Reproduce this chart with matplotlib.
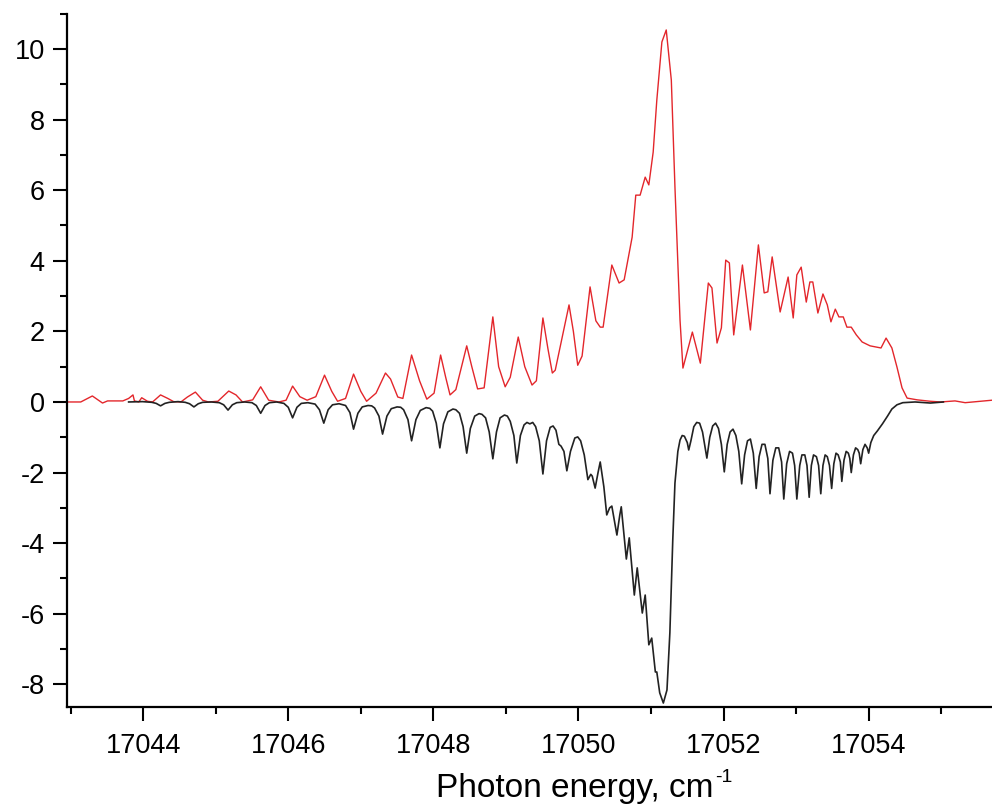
import matplotlib
matplotlib.use('Agg')
import matplotlib.pyplot as plt
from matplotlib.ticker import MultipleLocator

plt.rcParams['font.family'] = ['Liberation Sans', 'DejaVu Sans']
plt.rcParams['axes.unicode_minus'] = False

# red trace (upper)
red_x = [17042.93, 17043.14, 17043.30, 17043.44, 17043.51, 17043.72, 17043.80, 17043.86,
         17043.88, 17043.94, 17043.98, 17044.06, 17044.13, 17044.24, 17044.34, 17044.42,
         17044.52, 17044.61, 17044.72, 17044.82, 17044.90, 17045.03, 17045.18, 17045.28,
         17045.37, 17045.51, 17045.62, 17045.73, 17045.87, 17045.97, 17046.06, 17046.16,
         17046.26, 17046.38, 17046.50, 17046.60, 17046.68, 17046.79, 17046.90, 17047.00,
         17047.08, 17047.21, 17047.34, 17047.41, 17047.51, 17047.58, 17047.70, 17047.81,
         17047.91, 17048.01, 17048.10, 17048.17, 17048.23, 17048.31, 17048.46, 17048.53,
         17048.61, 17048.70, 17048.82, 17048.90, 17048.99, 17049.06, 17049.17, 17049.26,
         17049.36, 17049.42, 17049.51, 17049.58, 17049.64, 17049.68, 17049.87, 17049.93,
         17049.99, 17050.05, 17050.16, 17050.24, 17050.30, 17050.34, 17050.46, 17050.56,
         17050.63, 17050.74, 17050.79, 17050.85, 17050.92, 17050.97, 17051.03, 17051.08,
         17051.15, 17051.21, 17051.28, 17051.33, 17051.40, 17051.44, 17051.57, 17051.68,
         17051.79, 17051.84, 17051.91, 17051.97, 17052.03, 17052.08, 17052.14, 17052.26,
         17052.37, 17052.48, 17052.56, 17052.61, 17052.67, 17052.78, 17052.89, 17052.96,
         17053.01, 17053.07, 17053.14, 17053.19, 17053.23, 17053.30, 17053.37, 17053.43,
         17053.48, 17053.54, 17053.59, 17053.65, 17053.70, 17053.76, 17053.83, 17053.91,
         17054.02, 17054.17, 17054.24, 17054.32, 17054.39, 17054.46, 17054.53, 17054.67,
         17054.85, 17054.99, 17055.19, 17055.33, 17055.54, 17055.70]
red_y = [0.0, 0.0, 0.17, -0.03, 0.03, 0.03, 0.10, 0.20,
         0.03, 0.0, 0.12, 0.02, 0.0, 0.20, 0.10, 0.01,
         0.0, 0.14, 0.28, 0.05, 0.0, 0.02, 0.31, 0.20,
         0.0, 0.06, 0.43, 0.05, 0.0, 0.05, 0.45, 0.15,
         0.05, 0.15, 0.76, 0.30, 0.02, 0.10, 0.79, 0.30,
         0.02, 0.25, 0.82, 0.65, 0.14, 0.10, 1.33, 0.60,
         0.08, 0.25, 1.33, 0.70, 0.20, 0.35, 1.59, 1.00,
         0.37, 0.40, 2.41, 1.00, 0.43, 0.70, 1.84, 1.00,
         0.48, 0.60, 2.38, 1.50, 0.82, 0.90, 2.75, 2.00,
         1.04, 1.30, 3.26, 2.30, 2.12, 2.12, 3.88, 3.37,
         3.46, 4.67, 5.86, 5.86, 6.37, 6.15, 7.08, 8.55,
         10.2, 10.54, 9.12, 6.09, 2.32, 0.96, 1.98, 1.10,
         3.37, 3.23, 1.67, 2.10, 4.02, 3.94, 1.90, 3.88,
         2.04, 4.45, 3.09, 3.12, 4.11, 2.55, 3.54, 2.38,
         3.60, 3.82, 2.83, 3.40, 3.40, 2.52, 3.06, 2.75,
         2.27, 2.63, 2.41, 2.41, 2.12, 2.12, 1.90, 1.70,
         1.59, 1.53, 1.81, 1.53, 0.99, 0.40, 0.11, 0.06,
         0.02, 0.0, 0.03, -0.02, 0.02, 0.05]

# black trace (lower)
black_x = [17043.80, 17043.99, 17044.12, 17044.18, 17044.24, 17044.30, 17044.36, 17044.48,
           17044.58, 17044.64, 17044.70, 17044.76, 17044.82, 17044.94, 17045.05, 17045.11,
           17045.17, 17045.23, 17045.29, 17045.40, 17045.50, 17045.56, 17045.62, 17045.68,
           17045.74, 17045.84, 17045.94, 17046.00, 17046.06, 17046.12, 17046.18, 17046.27,
           17046.37, 17046.43, 17046.49, 17046.55, 17046.61, 17046.70, 17046.79, 17046.85,
           17046.90, 17046.96, 17047.02, 17047.10, 17047.15, 17047.19, 17047.25, 17047.30,
           17047.36, 17047.42, 17047.50, 17047.55, 17047.59, 17047.65, 17047.70, 17047.76,
           17047.82, 17047.90, 17047.95, 17047.99, 17048.04, 17048.09, 17048.14, 17048.20,
           17048.27, 17048.31, 17048.36, 17048.41, 17048.46, 17048.51, 17048.57, 17048.63,
           17048.67, 17048.72, 17048.77, 17048.82, 17048.87, 17048.92, 17048.98, 17049.02,
           17049.06, 17049.11, 17049.15, 17049.20, 17049.25, 17049.29, 17049.33, 17049.37,
           17049.41, 17049.46, 17049.51, 17049.56, 17049.61, 17049.65, 17049.69, 17049.73,
           17049.76, 17049.80, 17049.84, 17049.89, 17049.95, 17049.99, 17050.03, 17050.08,
           17050.13, 17050.17, 17050.19, 17050.23, 17050.27, 17050.30, 17050.35, 17050.39,
           17050.43, 17050.46, 17050.53, 17050.57, 17050.59, 17050.66, 17050.70, 17050.77,
           17050.81, 17050.88, 17050.92, 17050.97, 17051.01, 17051.06, 17051.08, 17051.12,
           17051.17, 17051.22, 17051.26, 17051.30, 17051.33, 17051.37, 17051.40, 17051.43,
           17051.46, 17051.50, 17051.52, 17051.55, 17051.59, 17051.63, 17051.67, 17051.71,
           17051.77, 17051.81, 17051.85, 17051.89, 17051.93, 17051.97, 17052.01, 17052.05,
           17052.09, 17052.13, 17052.17, 17052.21, 17052.25, 17052.29, 17052.33, 17052.37,
           17052.41, 17052.45, 17052.49, 17052.53, 17052.57, 17052.61, 17052.64, 17052.68,
           17052.72, 17052.76, 17052.80, 17052.83, 17052.87, 17052.91, 17052.95, 17052.98,
           17053.01, 17053.05, 17053.08, 17053.12, 17053.15, 17053.18, 17053.21, 17053.24,
           17053.28, 17053.31, 17053.34, 17053.37, 17053.40, 17053.43, 17053.46, 17053.49,
           17053.52, 17053.55, 17053.58, 17053.61, 17053.63, 17053.66, 17053.69, 17053.72,
           17053.74, 17053.76, 17053.79, 17053.82, 17053.85, 17053.87, 17053.89, 17053.92,
           17053.95, 17053.98, 17054.00, 17054.03, 17054.07, 17054.12, 17054.19, 17054.26,
           17054.32, 17054.39, 17054.47, 17054.64, 17054.85, 17055.03]
black_y = [0.0, 0.01, -0.01, -0.04, -0.11, -0.04, -0.01, 0.01,
           -0.01, -0.05, -0.14, -0.05, -0.01, 0.0, -0.02, -0.08,
           -0.23, -0.08, -0.02, 0.0, -0.02, -0.10, -0.32, -0.10,
           -0.02, 0.0, -0.04, -0.15, -0.45, -0.15, -0.04, -0.02,
           -0.06, -0.22, -0.60, -0.22, -0.08, -0.05, -0.10, -0.30,
           -0.77, -0.32, -0.14, -0.10, -0.11, -0.17, -0.40, -0.91,
           -0.40, -0.19, -0.14, -0.15, -0.22, -0.50, -1.10, -0.50,
           -0.24, -0.16, -0.18, -0.26, -0.60, -1.30, -0.62, -0.28,
           -0.20, -0.22, -0.32, -0.70, -1.45, -0.75, -0.40, -0.33,
           -0.35, -0.45, -0.85, -1.61, -0.85, -0.45, -0.37, -0.40,
           -0.55, -0.95, -1.73, -0.95, -0.65, -0.58, -0.62, -0.58,
           -0.70, -1.10, -2.04, -1.10, -0.72, -0.68, -0.80, -1.20,
           -1.25, -1.40, -1.95, -1.40, -1.02, -0.99, -1.10, -1.50,
           -2.20, -2.05, -2.10, -2.44, -2.00, -1.70, -2.40, -3.20,
           -3.00, -2.95, -3.77, -3.20, -2.97, -4.45, -3.85, -5.47,
           -4.70, -5.98, -5.47, -6.88, -6.69, -7.65, -7.65, -8.24,
           -8.53, -8.16, -6.54, -3.91, -2.30, -1.40, -1.08, -0.95,
           -0.97, -1.15, -1.36, -1.10, -0.70, -0.58, -0.60, -0.85,
           -1.59, -1.00, -0.68, -0.60, -0.75, -1.20, -1.98, -1.20,
           -0.85, -0.77, -0.95, -1.40, -2.32, -1.50, -1.10, -1.05,
           -1.45, -2.45, -1.55, -1.20, -1.20, -1.60, -2.60, -1.65,
           -1.30, -1.30, -1.70, -2.75, -1.75, -1.40, -1.45, -1.80,
           -2.75, -1.80, -1.50, -1.50, -1.80, -2.70, -1.80, -1.50,
           -1.55, -1.80, -2.60, -1.80, -1.50, -1.55, -1.80, -2.45,
           -1.75, -1.45, -1.50, -1.70, -2.25, -1.65, -1.40, -1.45,
           -1.60, -2.00, -1.50, -1.30, -1.35, -1.45, -1.75, -1.35,
           -1.20, -1.30, -1.45, -1.15, -0.95, -0.82, -0.62, -0.40,
           -0.20, -0.08, -0.02, 0.0, -0.03, 0.0]

x_ticks = [17044, 17046, 17048, 17050, 17052, 17054]
y_ticks = [-8, -6, -4, -2, 0, 2, 4, 6, 8, 10]


def plot():
    fig = plt.figure(figsize=(9.92, 8.07), dpi=100)
    ax = fig.add_axes([0.0675, 0.124, 0.9325, 0.859])

    ax.plot(red_x, red_y, '-', color='#e3262b', lw=1.0)
    ax.plot(black_x, black_y, '-', color='#222222', lw=1.2)

    ax.set_xlim(17042.95, 17055.7)
    ax.set_ylim(-8.64, 11.0)

    ax.spines['top'].set_visible(False)
    ax.spines['right'].set_visible(False)
    ax.spines['left'].set_linewidth(1.6)
    ax.spines['bottom'].set_linewidth(1.6)

    ax.set_xticks(x_ticks)
    ax.set_yticks(y_ticks)
    ax.xaxis.set_minor_locator(MultipleLocator(1))
    ax.yaxis.set_minor_locator(MultipleLocator(1))
    ax.tick_params(which='major', direction='out', length=10, width=1.5, labelsize=19.5, pad=6)
    ax.tick_params(axis='x', which='major', pad=9)
    ax.tick_params(which='minor', direction='out', length=5, width=1.5)
    ax.ticklabel_format(useOffset=False, style='plain', axis='x')

    # label sits off-centre because the original figure is cropped on the right
    lab = fig.text(0.5796, 0.0124, 'Photon energy, cm', ha='center', va='baseline', fontsize=24)
    ax.annotate('-1', xy=(1.0, 1.0), xycoords=lab, xytext=(1, 3), textcoords='offset points',
                ha='left', va='top', fontsize=14)

    fig.savefig('out.png', dpi=100)


plot()
